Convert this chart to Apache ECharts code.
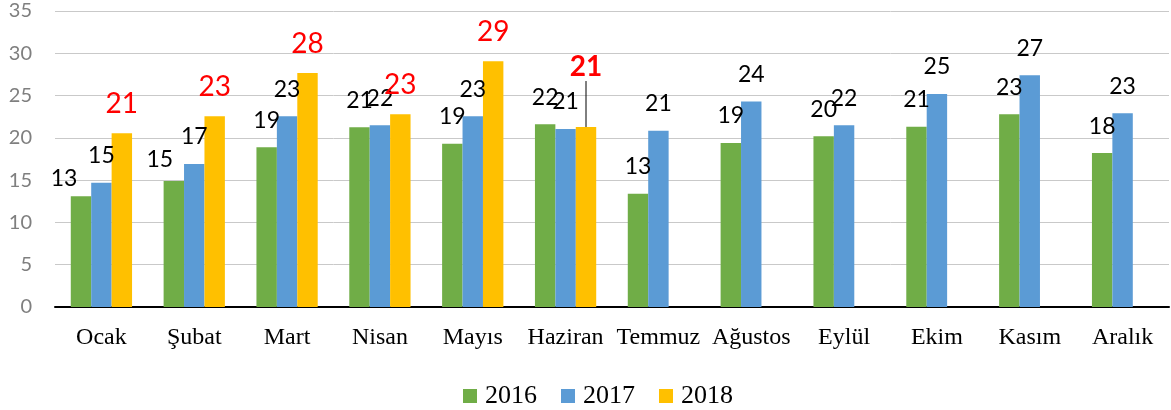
<!DOCTYPE html>
<html>
<head>
<meta charset="utf-8">
<script src="https://cdn.jsdelivr.net/npm/echarts@6/dist/echarts.min.js"></script>
<style>
  html, body { margin: 0; padding: 0; background: #fff; }
  #main { width: 1171px; height: 410px; }
</style>
</head>
<body>
<div id="main"></div>
<script>
var months = ['Ocak', 'Şubat', 'Mart', 'Nisan', 'Mayıs', 'Haziran', 'Temmuz', 'Ağustos', 'Eylül', 'Ekim', 'Kasım', 'Aralık'];
var years = ['2016', '2017', '2018'];
var v2016 = [13.1, 14.9, 18.9, 21.25, 19.3, 21.6, 13.4, 19.4, 20.2, 21.3, 22.8, 18.2];
var v2017 = [14.7, 16.9, 22.55, 21.5, 22.55, 21.05, 20.85, 24.3, 21.5, 25.2, 27.4, 22.9];
var v2018 = [20.55, 22.55, 27.67, 22.8, 29.05, 21.28, null, null, null, null, null, null];

var colors = ['#70AD47', '#5B9BD5', '#FFC000'];
var numFont = 'Lato, "Noto Sans", sans-serif';
var serifFont = '"Liberation Serif", "DejaVu Serif", serif';

// hand-moved labels, like the original sheet
var moved = {
  '0-0': { dx: -17, dy: 9 },
  '0-1': { dx: -14, dy: 6 },
  '2-5': { dx: 0, dy: -31 }
};

function round(p) { return Math.round(p.value); }

var chart = echarts.init(document.getElementById('main'));

var series = [v2016, v2017, v2018].map(function (vals, i) {
  var red = i === 2;
  return {
    name: years[i],
    type: 'bar',
    barGap: 0,
    barCategoryGap: '34%',
    itemStyle: { color: colors[i] },
    label: {
      show: true,
      position: 'top',
      distance: red ? 15 : 15.5,
      formatter: round,
      fontFamily: numFont,
      fontSize: red ? 28 : 23,
      color: red ? '#FF0000' : '#000'
    },
    labelLine: { show: false },
    labelLayout: function (p) {
      var m = moved[p.seriesIndex + '-' + p.dataIndex];
      return m ? { dx: m.dx, dy: m.dy } : {};
    },
    data: vals.map(function (v, j) {
      if (red && j === 5) {
        return {
          value: v,
          label: { fontWeight: 'bold' },
          labelLine: { show: true, lineStyle: { color: '#000', width: 1 } }
        };
      }
      return v;
    })
  };
});

chart.setOption({
  animation: false,
  color: colors,
  grid: { left: 55, right: 2, top: 11, bottom: 103 },
  legend: {
    data: years,
    left: 458,
    top: 378,
    itemWidth: 14,
    itemHeight: 14,
    itemGap: 24,
    icon: 'rect',
    textStyle: { fontFamily: serifFont, fontSize: 26, color: '#000', padding: [0, 0, 0, 3] }
  },
  xAxis: [{
    type: 'category',
    data: months,
    axisLine: { lineStyle: { color: '#000', width: 2 } },
    axisTick: { alignWithLabel: true, length: 6, lineStyle: { color: '#000' } },
    axisLabel: { interval: 0, margin: 19, fontFamily: serifFont, fontSize: 24, color: '#000' }
  }, {
    type: 'category',
    data: months,
    position: 'bottom',
    axisLine: { show: false },
    axisTick: { length: 8, lineStyle: { color: '#000' } },
    axisLabel: { show: false }
  }],
  yAxis: {
    type: 'value',
    min: 0,
    max: 35,
    interval: 5,
    axisLine: { show: false },
    axisTick: { show: false },
    axisLabel: { margin: 23, fontFamily: numFont, fontSize: 20, color: '#7F7F7F' },
    splitLine: { lineStyle: { color: '#C9C9C9', width: 1 } }
  },
  series: series
});
</script>
</body>
</html>
